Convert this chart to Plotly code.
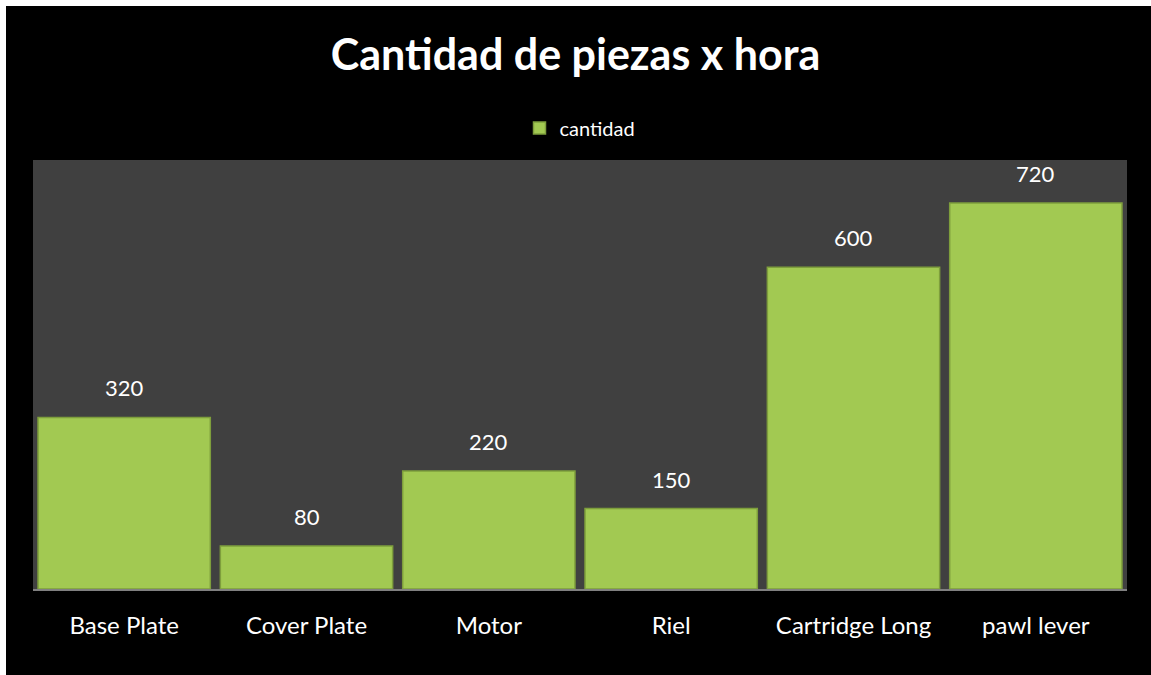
import plotly.graph_objects as go

categories = ["Base Plate", "Cover Plate", "Motor", "Riel", "Cartridge Long", "pawl lever"]
cantidad = [320, 80, 220, 150, 600, 720]
series_name = "cantidad"
title_text = "Cantidad de piezas x hora"

FONT = "Lato, 'Open Sans', sans-serif"
GREEN = "#a2c952"

W, H = 1151, 675
L, R, T, B = 33, 24, 160, 86
PW, PH = W - L - R, H - T - B

fig = go.Figure()
fig.add_trace(go.Bar(
    x=categories, y=cantidad, name=series_name,
    marker=dict(color=GREEN, line=dict(color="#7e9e3c", width=1.5)),
    hoverinfo="x+y",
))

for c, v in zip(categories, cantidad):
    fig.add_annotation(x=c, y=v, text=str(v), showarrow=False, yanchor="bottom",
                       yshift=14, font=dict(family=FONT, size=22, color="white"))

fig.update_layout(
    width=W, height=H,
    margin=dict(l=L, r=R, t=T, b=B),
    paper_bgcolor="black",
    plot_bgcolor="#404040",
    bargap=0.055,
    title=dict(text="<b>" + title_text + "</b>", x=0.5, xanchor="center",
               y=1 - 55 / H, yanchor="middle",
               font=dict(family=FONT, size=43, color="white")),
    showlegend=True,
    legend=dict(orientation="h", x=0.5, xanchor="center", y=1 + 32 / PH, yanchor="middle",
                font=dict(family=FONT, size=20, color="white"), bgcolor="rgba(0,0,0,0)",
                itemwidth=30),
    xaxis=dict(showgrid=False, showline=True, linecolor="#808080", linewidth=2,
               tickfont=dict(family=FONT, size=24, color="white"), ticks="",
               ticklabelstandoff=14),
    yaxis=dict(range=[0, 800], visible=False, showgrid=False),
    shapes=[
        # thin white strips along the top and left edges
        dict(type="rect", xref="paper", yref="paper",
             x0=-(L + 5) / PW, x1=(W - L + 5) / PW,
             y0=(H - B - 6) / PH, y1=(H - B + 5) / PH,
             fillcolor="white", line=dict(width=0)),
        dict(type="rect", xref="paper", yref="paper",
             x0=-(L + 5) / PW, x1=(6 - L) / PW,
             y0=-(B + 5) / PH, y1=(H - B + 5) / PH,
             fillcolor="white", line=dict(width=0)),
    ],
)

fig.write_html("out.html", config={"displayModeBar": False},
               post_script="document.body.style.margin='0';document.body.style.overflow='hidden';")
